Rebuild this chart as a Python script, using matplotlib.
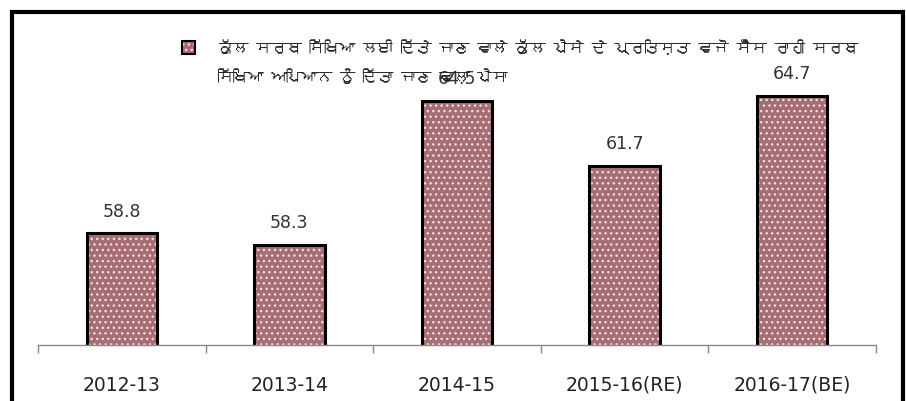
import matplotlib
matplotlib.use("Agg")
import matplotlib.pyplot as plt
from matplotlib.patches import Rectangle
from matplotlib import font_manager
from matplotlib.ft2font import FT2Font

years = ["2012-13", "2013-14", "2014-15", "2015-16(RE)", "2016-17(BE)"]
share = [58.8, 58.3, 64.5, 61.7, 64.7]
legend_line1 = "ਕੁੱਲ ਸਰਬ ਸਿੱਖਿਆ ਲਈ ਦਿੱਤੇ ਜਾਣ ਵਾਲੇ ਕੁੱਲ ਪੈਸੇ ਦੇ ਪ੍ਰਤਿਸ਼ਤ ਵਜੋਂ ਸੈੱਸ ਰਾਹੀ ਸਰਬ"
legend_line2 = "ਸਿੱਖਿਆ ਅਪਿਆਨ ਨੂੰ ਦਿੱਤਾ ਜਾਣ ਵਾਲਾ ਪੈਸਾ"


def find_font(ch):
    # look for any installed font that has Gurmukhi glyphs
    for f in font_manager.fontManager.ttflist:
        try:
            if FT2Font(f.fname).get_char_index(ord(ch)):
                return f.name
        except Exception:
            pass
    return None


gfont = find_font("ਕ")
text_family = [gfont, "DejaVu Sans"] if gfont else ["DejaVu Sans"]

face = "#a66d74"
dots = "#f6dadd"

fig = plt.figure(figsize=(9.06, 4.01), dpi=100)
ax = fig.add_axes([0.0419, 0.1397, 0.925, 0.785])

x = list(range(len(years)))
ax.bar(x, share, width=0.42, bottom=0, color=face, hatch="...",
       edgecolor=dots, linewidth=0)
ax.bar(x, share, width=0.42, fill=False, edgecolor="black", linewidth=2.2)

for xi, v in zip(x, share):
    ax.annotate(f"{v}", (xi, v), xytext=(0, 9), textcoords="offset points",
                ha="center", va="bottom", fontsize=12.5, color="#333333")

ax.set_xlim(-0.5, len(years) - 0.5)
ax.set_ylim(54, 67.52)
ax.set_xticks(x)
ax.set_xticklabels(years, fontsize=13.5, color="#222222")
ax.set_xticks([i - 0.5 for i in range(len(years) + 1)], minor=True)
ax.tick_params(axis="x", which="major", length=0, pad=22)
ax.tick_params(axis="x", which="minor", length=6, color="#888888", width=1)
ax.set_yticks([])
for s in ["top", "right", "left"]:
    ax.spines[s].set_visible(False)
ax.spines["bottom"].set_color("#888888")
ax.spines["bottom"].set_linewidth(1)

# outer frame
fig.patches.append(Rectangle((12 / 906, -0.05), 891 / 906, 1 - 12 / 401 + 0.05,
                             transform=fig.transFigure, fill=False,
                             edgecolor="black", linewidth=3))

# legend
fig.patches.append(Rectangle((182 / 906, 1 - 54 / 401), 13 / 906, 13 / 401,
                             transform=fig.transFigure, facecolor=face,
                             hatch="...", edgecolor=dots, linewidth=0))
fig.patches.append(Rectangle((182 / 906, 1 - 54 / 401), 13 / 906, 13 / 401,
                             transform=fig.transFigure, fill=False,
                             edgecolor="black", linewidth=1.5))
fig.text(218 / 906, 1 - 47 / 401, legend_line1, ha="left", va="center",
         fontsize=11, family=text_family, color="#222222")
fig.text(218 / 906, 1 - 76 / 401, legend_line2, ha="left", va="center",
         fontsize=11, family=text_family, color="#222222")

fig.savefig("out.png", dpi=100)
